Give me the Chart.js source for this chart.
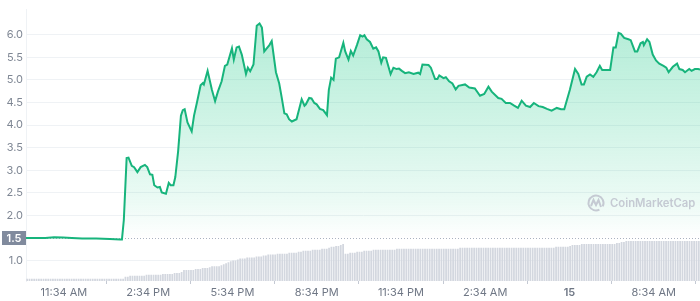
<!DOCTYPE html>
<html>
<head>
<meta charset="utf-8">
<script src="https://cdn.jsdelivr.net/npm/chart.js@4"></script>
<style>
  html, body { margin: 0; padding: 0; background: #fff; }
</style>
</head>
<body>
<canvas id="chart" width="700" height="301"></canvas>
<script>
// minutes since the first point (10:12 AM), and the price at that moment
const minutes = [
  0, 19, 41, 60, 79, 98, 120, 150, 179, 201,
  205, 209, 215, 219, 226, 231, 238, 245, 254, 259,
  265, 270, 274, 281, 286, 290, 299, 305, 309, 315,
  319, 325, 331, 335, 339, 345, 354, 359, 365, 373,
  378, 380, 388, 397, 404, 410, 418, 425, 430, 440,
  444, 450, 455, 461, 470, 474, 479, 486, 493, 499,
  504, 509, 520, 525, 534, 541, 546, 552, 557, 562,
  568, 578, 589, 595, 598, 605, 610, 616, 621, 628,
  635, 643, 647, 652, 657, 662, 669, 678, 682, 689,
  694, 699, 707, 714, 719, 723, 728, 735, 742, 748,
  753, 759, 763, 769, 774, 779, 785, 792, 797, 803,
  810, 818, 828, 838, 842, 847, 860, 865, 874, 879,
  883, 892, 897, 904, 911, 918, 924, 938, 947, 959,
  970, 979, 988, 995, 1009, 1016, 1025, 1034, 1043, 1051,
  1059, 1068, 1077, 1085, 1095, 1104, 1113, 1123, 1134, 1143,
  1150, 1162, 1173, 1180, 1187, 1192, 1198, 1205, 1212, 1219,
  1226, 1231, 1241, 1248, 1255, 1260, 1266, 1271, 1278, 1287,
  1292, 1301, 1306, 1313, 1318, 1320, 1327, 1332, 1339, 1346,
  1353, 1362, 1368, 1373, 1382, 1391, 1396, 1403, 1408, 1417,
  1422, 1429, 1436, 1440
]
const prices = [
  1.50, 1.50, 1.50, 1.52, 1.51, 1.50, 1.49, 1.49, 1.48, 1.47,
  1.47, 1.90, 3.27, 3.28, 3.10, 3.07, 2.96, 3.07, 3.12, 3.07,
  2.91, 2.90, 2.67, 2.62, 2.63, 2.51, 2.48, 2.72, 2.67, 2.67,
  2.85, 3.42, 4.21, 4.33, 4.35, 4.06, 3.86, 4.21, 4.49, 4.88,
  4.93, 4.90, 5.20, 4.79, 4.53, 4.74, 4.97, 5.31, 5.34, 5.70,
  5.45, 5.72, 5.74, 5.56, 5.13, 5.27, 5.19, 5.34, 6.20, 6.25,
  6.16, 5.63, 5.77, 5.86, 5.17, 4.92, 4.63, 4.26, 4.24, 4.13,
  4.08, 4.13, 4.57, 4.43, 4.46, 4.60, 4.59, 4.49, 4.46, 4.36,
  4.33, 4.22, 4.78, 5.05, 5.00, 5.47, 5.50, 5.82, 5.63, 5.45,
  5.64, 5.54, 5.77, 5.99, 5.96, 5.99, 5.90, 5.84, 5.69, 5.72,
  5.63, 5.38, 5.50, 5.49, 5.31, 5.13, 5.27, 5.24, 5.25, 5.20,
  5.15, 5.17, 5.13, 5.16, 5.13, 5.34, 5.33, 5.27, 5.02, 5.02,
  5.10, 5.04, 5.06, 4.97, 4.92, 4.79, 4.87, 4.90, 4.83, 4.81,
  4.65, 4.69, 4.85, 4.74, 4.60, 4.58, 4.49, 4.49, 4.43, 4.38,
  4.54, 4.43, 4.40, 4.49, 4.42, 4.40, 4.36, 4.32, 4.38, 4.35,
  4.35, 4.78, 5.24, 5.13, 4.90, 4.90, 5.07, 5.12, 5.07, 5.17,
  5.31, 5.22, 5.22, 5.22, 5.72, 5.72, 6.04, 6.02, 5.93, 5.90,
  5.88, 5.63, 5.63, 5.81, 5.84, 5.77, 5.90, 5.84, 5.56, 5.43,
  5.36, 5.31, 5.27, 5.17, 5.29, 5.36, 5.24, 5.22, 5.17, 5.24,
  5.20, 5.24, 5.24, 5.23
]

// volume bars, one every 5 minutes, one row per hour
const volumeStep = 5
const volumes = [
  2, 2, 2, 2, 2, 2, 2, 2, 2, 2, 2, 2,
  2, 2, 2, 2, 2, 2, 2, 2, 2, 2, 2, 2,
  2, 2, 2, 2, 2, 2, 2, 2, 2, 2, 2, 2,
  2, 2, 2, 2, 2, 2, 4, 4, 5, 5, 5, 5,
  5, 5, 5, 6, 6, 6, 6, 6, 6, 6, 7, 7,
  7, 7, 7, 8, 8, 8, 9, 11, 11, 11, 11, 11,
  12, 12, 12, 13, 13, 13, 14, 15, 15, 15, 15, 16,
  17, 18, 19, 20, 21, 21, 22, 23, 23, 23, 24, 24,
  24, 24, 25, 25, 25, 26, 26, 27, 27, 27, 27, 28,
  28, 28, 28, 28, 29, 29, 29, 29, 30, 30, 31, 31,
  31, 31, 32, 32, 32, 32, 33, 33, 33, 34, 35, 35,
  36, 36, 37, 38, 28, 28, 29, 29, 29, 30, 30, 30,
  31, 31, 31, 31, 32, 32, 32, 32, 32, 32, 32, 32,
  32, 32, 33, 33, 33, 33, 33, 33, 33, 33, 33, 33,
  33, 33, 33, 33, 33, 33, 33, 33, 33, 33, 33, 33,
  33, 33, 33, 33, 33, 34, 34, 34, 34, 34, 34, 34,
  34, 34, 34, 34, 34, 34, 34, 34, 34, 34, 34, 34,
  34, 34, 34, 34, 34, 34, 34, 34, 34, 34, 34, 34,
  34, 34, 34, 34, 34, 34, 34, 34, 34, 34, 35, 35,
  35, 35, 35, 35, 36, 37, 37, 37, 37, 38, 38, 38,
  38, 38, 38, 38, 38, 38, 38, 38, 38, 38, 38, 38,
  39, 39, 40, 40, 41, 41, 41, 41, 41, 41, 41, 41,
  41, 41, 41, 41, 41, 41, 41, 41, 41, 41, 41, 41,
  41, 41, 41, 41, 41, 41, 41, 41, 41, 41, 41, 41
]

const baseline = 1.5
const yTicks = [1.0, 2.0, 2.5, 3.0, 3.5, 4.0, 4.5, 5.0, 5.5, 6.0]
const xTickMinutes = [81, 261, 441, 621, 801, 981, 1161, 1341]
const xTickLabels = ['11:34 AM', '2:34 PM', '5:34 PM', '8:34 PM', '11:34 PM', '2:34 AM', '15', '8:34 AM']

const green = '#17b47c'

Chart.defaults.font.family = 'Inter, "Noto Sans", sans-serif'

// green gradient from the top of the plot down to the baseline
function fillGradient(context) {
  const chart = context.chart
  const area = chart.chartArea
  if (!area || !chart.scales.y) return 'rgba(22,199,132,0.2)'
  const bottom = chart.scales.y.getPixelForValue(baseline)
  const g = chart.ctx.createLinearGradient(0, area.top, 0, bottom)
  g.addColorStop(0, 'rgba(22,199,132,0.34)')
  g.addColorStop(0.5, 'rgba(22,199,132,0.2)')
  g.addColorStop(0.85, 'rgba(22,199,132,0.08)')
  g.addColorStop(1, 'rgba(22,199,132,0)')
  return g
}

// dotted baseline, the grey "1.5" tag and the watermark
const overlay = {
  id: 'overlay',
  beforeDatasetsDraw(chart) {
    const { ctx, chartArea } = chart
    const py = Math.round(chart.scales.y.getPixelForValue(baseline)) + 0.5
    ctx.save()
    ctx.strokeStyle = '#aab2c0'
    ctx.lineWidth = 1
    ctx.setLineDash([1, 2])
    ctx.beginPath()
    ctx.moveTo(chartArea.left, py)
    ctx.lineTo(chartArea.right, py)
    ctx.stroke()
    ctx.restore()
  },
  afterDraw(chart) {
    const { ctx, chartArea } = chart
    const py = chart.scales.y.getPixelForValue(baseline)
    ctx.save()
    ctx.fillStyle = '#808a9d'
    ctx.fillRect(2, Math.round(py) - 7, chartArea.left - 2, 14)
    ctx.fillStyle = '#fff'
    ctx.font = '600 11px Inter'
    ctx.textAlign = 'center'
    ctx.textBaseline = 'middle'
    ctx.fillText(baseline.toFixed(1), (chartArea.left + 2) / 2, Math.round(py) + 0.5)

    // CoinMarketCap watermark
    const cx = 596, cy = 203
    ctx.strokeStyle = '#c5cad3'
    ctx.lineWidth = 2
    ctx.beginPath()
    ctx.arc(cx, cy, 7.5, 0.35 * Math.PI, 2.15 * Math.PI)
    ctx.stroke()
    ctx.beginPath()
    ctx.moveTo(cx - 5, cy + 3)
    ctx.lineTo(cx - 2.5, cy - 3)
    ctx.lineTo(cx, cy + 2)
    ctx.lineTo(cx + 2.5, cy - 3)
    ctx.lineTo(cx + 5, cy + 4)
    ctx.stroke()
    ctx.fillStyle = '#c5cad3'
    ctx.font = '600 11.3px Inter'
    ctx.textAlign = 'left'
    ctx.textBaseline = 'alphabetic'
    ctx.fillText('CoinMarketCap', 610, 207)
    ctx.restore()
  }
}

new Chart(document.getElementById('chart').getContext('2d'), {
  data: {
    datasets: [
      {
        type: 'line',
        data: minutes.map((m, i) => ({ x: m, y: prices[i] })),
        borderColor: green,
        borderWidth: 2,
        pointRadius: 0,
        tension: 0,
        backgroundColor: fillGradient,
        fill: { target: { value: baseline }, below: 'rgba(0,0,0,0)' },
        yAxisID: 'y',
        order: 1
      },
      {
        type: 'bar',
        data: volumes.map((v, i) => ({ x: i * volumeStep + volumeStep / 2, y: v })),
        backgroundColor: '#d3d7df',
        barThickness: 1.1,
        yAxisID: 'vol',
        order: 2
      }
    ]
  },
  options: {
    responsive: false,
    animation: false,
    layout: { padding: 0, autoPadding: false },
    plugins: { legend: { display: false }, tooltip: { enabled: false } },
    scales: {
      x: {
        type: 'linear',
        min: 0,
        max: 1440,
        offset: false,
        afterFit: (s) => { s.height = 20 },
        afterBuildTicks: (s) => { s.ticks = xTickMinutes.map((v) => ({ value: v })) },
        grid: { display: true, drawOnChartArea: false, drawTicks: true, tickLength: 3, color: '#c4c9d3' },
        border: { display: false },
        ticks: {
          autoSkip: false,
          maxRotation: 0,
          padding: 2,
          color: '#6f7785',
          font: (c) => ({ size: 11, weight: xTickLabels[c.index] === '15' ? '600' : '400' }),
          callback: (v, i) => xTickLabels[i]
        }
      },
      y: {
        position: 'left',
        min: 0.55,
        max: 6.556,
        afterFit: (s) => { s.width = 26 },
        afterBuildTicks: (s) => { s.ticks = yTicks.map((v) => ({ value: v })) },
        grid: { color: '#eff2f5', drawTicks: false },
        border: { display: true, color: '#eff2f5' },
        ticks: {
          padding: 3,
          color: '#7f8794',
          font: { size: 11 },
          callback: (v) => v.toFixed(1)
        }
      },
      vol: {
        display: false,
        min: 0,
        max: 281
      }
    }
  },
  plugins: [overlay]
})
</script>
</body>
</html>
